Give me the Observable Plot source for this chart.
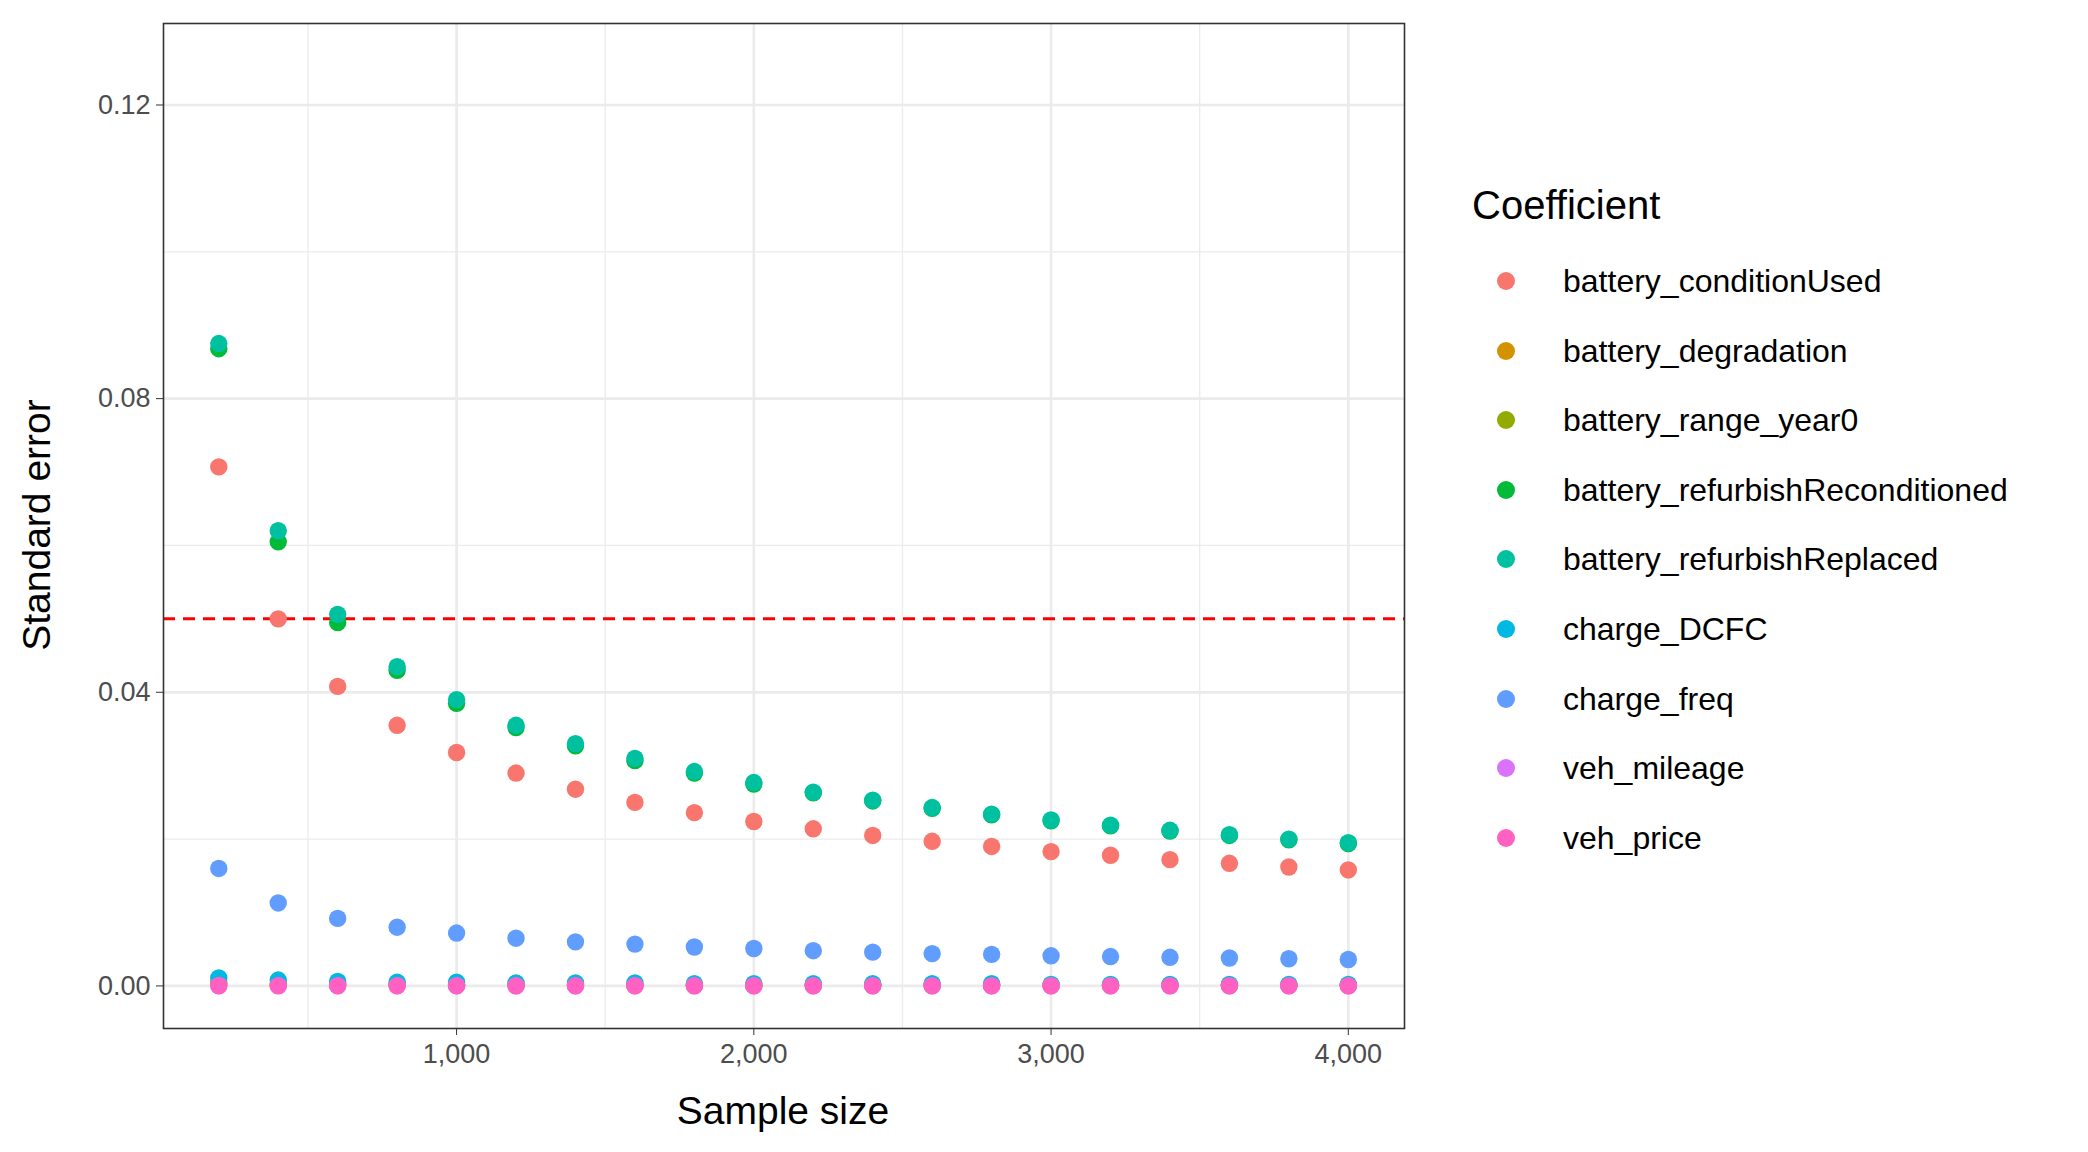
<!DOCTYPE html>
<html>
<head>
<meta charset="utf-8">
<script src="https://cdn.jsdelivr.net/npm/d3@7"></script>
<script src="https://cdn.jsdelivr.net/npm/@observablehq/plot@0.6"></script>
<style>
  body { margin: 0; background: #fff; font-family: "Liberation Sans", Arial, sans-serif; }
  #grafico { position: relative; width: 2088px; height: 1152px; }
  .lab { position: absolute; color: #000; white-space: nowrap; }
</style>
</head>
<body>
<div id="grafico"></div>
<script>
// tamaños de muestra
const sizes = [200, 400, 600, 800, 1000, 1200, 1400, 1600, 1800, 2000, 2200, 2400, 2600, 2800, 3000, 3200, 3400, 3600, 3800, 4000]

const coefs = ['battery_conditionUsed', 'battery_degradation', 'battery_range_year0', 'battery_refurbishReconditioned',
  'battery_refurbishReplaced', 'charge_DCFC', 'charge_freq', 'veh_mileage', 'veh_price']
const colores = ['#F8766D', '#D39200', '#93AA00', '#00BA38', '#00C19F', '#00B9E3', '#619CFF', '#DB72FB', '#FF61C3']

// errores estandar
const conditionUsed = [0.0707, 0.0500, 0.0408, 0.0355, 0.0318, 0.0290, 0.0268, 0.0250, 0.0236, 0.0224, 0.0214, 0.0205, 0.0197, 0.0190, 0.0183, 0.0178, 0.0172, 0.0167, 0.0162, 0.0158]
const degradation = [0.0004, 0.0003, 0.0003, 0.0002, 0.0002, 0.0002, 0.0002, 0.0001, 0.0001, 0.0001, 0.0001, 0.0001, 0.0001, 0.0001, 0.0001, 0.0001, 0.0001, 0.0001, 0.0001, 0.0001]
const rangeYear0 = [0.0003, 0.0002, 0.0002, 0.0002, 0.0001, 0.0001, 0.0001, 0.0001, 0.0001, 0.0001, 0.0001, 0.0001, 0.0001, 0.0001, 0.0001, 0.0001, 0.0001, 0.0001, 0.0001, 0.0001]
const reconditioned = [0.0868, 0.0605, 0.0495, 0.0430, 0.0385, 0.0352, 0.0327, 0.0307, 0.0290, 0.0275, 0.0263, 0.0252, 0.0242, 0.0233, 0.0225, 0.0218, 0.0211, 0.0205, 0.0199, 0.0194]
const replaced = [0.0875, 0.0620, 0.0506, 0.0435, 0.0390, 0.0355, 0.0330, 0.0310, 0.0292, 0.0277, 0.0264, 0.0253, 0.0243, 0.0234, 0.0226, 0.0219, 0.0212, 0.0206, 0.0200, 0.0195]
const dcfc = [0.0011, 0.0008, 0.0006, 0.0005, 0.0005, 0.0004, 0.0004, 0.0004, 0.0003, 0.0003, 0.0003, 0.0003, 0.0003, 0.0003, 0.0002, 0.0002, 0.0002, 0.0002, 0.0002, 0.0002]
const chargeFreq = [0.0160, 0.0113, 0.0092, 0.0080, 0.0072, 0.0065, 0.0060, 0.0057, 0.0053, 0.0051, 0.0048, 0.0046, 0.0044, 0.0043, 0.0041, 0.0040, 0.0039, 0.0038, 0.0037, 0.0036]
const mileage = [0.00006, 0.00004, 0.00003, 0.00003, 0.00003, 0.00002, 0.00002, 0.00002, 0.00002, 0.00002, 0.00002, 0.00002, 0.00001, 0.00001, 0.00001, 0.00001, 0.00001, 0.00001, 0.00001, 0.00001]
const price = [0.00002, 0.00001, 0.00001, 0.00001, 0.00001, 0.00001, 0.00001, 0.00001, 0.00001, 0.00001, 0.00001, 0.00001, 0.00001, 0.00001, 0.00001, 0.00001, 0.00001, 0.00001, 0.00001, 0.00001]

const series = [conditionUsed, degradation, rangeYear0, reconditioned, replaced, dcfc, chargeFreq, mileage, price]

const yMajor = [0, 0.04, 0.08, 0.12]
const yMinor = [0.02, 0.06, 0.10]
const xMajor = [1000, 2000, 3000, 4000]
const xMinor = [500, 1500, 2500, 3500]
const umbral = 0.05

let ChartData = []
series.forEach((s, i) => s.forEach((v, j) => ChartData.push({ n: sizes[j], se: v, coef: coefs[i] })))

let chart = Plot.plot({
  width: 2088,
  height: 1152,
  marginLeft: 163,
  marginRight: 684,
  marginTop: 23,
  marginBottom: 124,
  style: { fontSize: '27px', fontFamily: '"Liberation Sans", Arial, sans-serif', color: '#4D4D4D', background: 'white' },
  x: { domain: [14, 4189] },
  y: { domain: [-0.0058, 0.1311] },
  color: { domain: coefs, range: colores },
  marks: [
    Plot.ruleY(yMinor, { stroke: '#EBEBEB', strokeWidth: 1.3, strokeOpacity: 1 }),
    Plot.ruleX(xMinor, { stroke: '#EBEBEB', strokeWidth: 1.3, strokeOpacity: 1 }),
    Plot.ruleY(yMajor, { stroke: '#EBEBEB', strokeWidth: 2.7, strokeOpacity: 1 }),
    Plot.ruleX(xMajor, { stroke: '#EBEBEB', strokeWidth: 2.7, strokeOpacity: 1 }),
    Plot.ruleY([umbral], { stroke: '#FF0000', strokeWidth: 3, strokeDasharray: '12,8' }),
    Plot.dot(ChartData, { x: 'n', y: 'se', fill: 'coef', r: 8.7 }),
    Plot.frame({ stroke: '#333333', strokeWidth: 1.6 }),
    Plot.axisY(yMajor, { tickFormat: d3.format('.2f'), tickSize: 7, tickPadding: 6, label: null, stroke: '#333333' }),
    Plot.axisX(xMajor, { tickFormat: d => d, tickSize: 7, tickPadding: 8, label: null, stroke: '#333333' })
  ]
})

const cont = document.getElementById('grafico')
cont.append(chart)

function etiqueta(txt, css) {
  const d = document.createElement('div')
  d.className = 'lab'
  d.textContent = txt
  Object.assign(d.style, css)
  cont.append(d)
}
etiqueta('Sample size', { left: '783px', top: '1111px', fontSize: '39px', transform: 'translate(-50%,-50%)' })
etiqueta('Standard error', { left: '37px', top: '525px', fontSize: '39px', transform: 'translate(-50%,-50%) rotate(-90deg)' })
etiqueta('Coefficient', { left: '1472px', top: '205px', fontSize: '40px', transform: 'translateY(-50%)' })

// leyenda
coefs.forEach((c, i) => {
  const y = 281 + i * 69.6
  const p = document.createElement('div')
  p.className = 'lab'
  Object.assign(p.style, { left: '1497px', top: (y - 9) + 'px', width: '18px', height: '18px', borderRadius: '50%', background: colores[i] })
  cont.append(p)
  etiqueta(c, { left: '1563px', top: y + 'px', fontSize: '32px', transform: 'translateY(-50%)' })
})
</script>
</body>
</html>
